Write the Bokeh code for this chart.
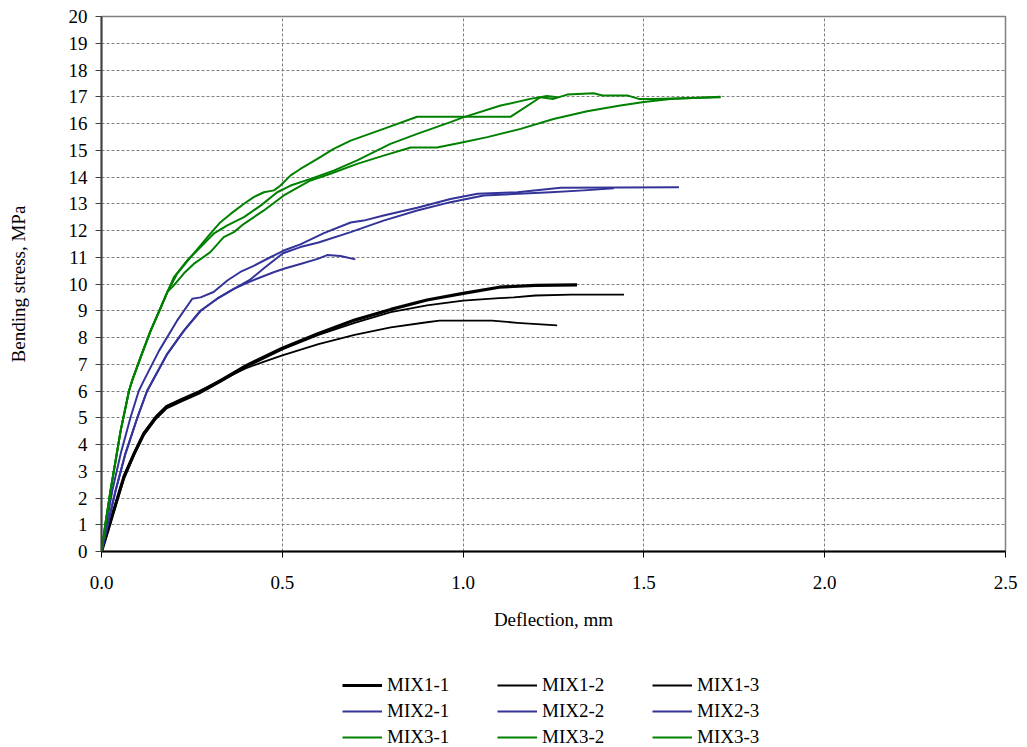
from bokeh.plotting import figure
from bokeh.models import Range1d, FixedTicker, PrintfTickFormatter, Legend, LegendItem
from bokeh.layouts import column
from bokeh.embed import file_html
from bokeh.resources import INLINE

# ---- data (deflection in mm, bending stress in MPa) ----
mix1_1_x = [0, 0.02, 0.04, 0.062, 0.09, 0.117, 0.15, 0.18, 0.22, 0.27, 0.33, 0.40, 0.50, 0.60, 0.70, 0.80, 0.90, 1.00, 1.10, 1.20, 1.315]
mix1_1_y = [0, 0.9, 1.8, 2.8, 3.65, 4.4, 5.0, 5.4, 5.65, 5.95, 6.4, 6.95, 7.6, 8.15, 8.65, 9.05, 9.4, 9.65, 9.88, 9.95, 9.97]
mix1_2_x = [0, 0.02, 0.04, 0.062, 0.09, 0.117, 0.15, 0.18, 0.22, 0.27, 0.33, 0.40, 0.50, 0.60, 0.70, 0.80, 0.90, 1.00, 1.10, 1.14, 1.20, 1.30, 1.445]
mix1_2_y = [0, 0.85, 1.75, 2.7, 3.6, 4.35, 4.95, 5.35, 5.6, 5.9, 6.35, 6.9, 7.55, 8.1, 8.55, 8.95, 9.2, 9.38, 9.47, 9.5, 9.57, 9.6, 9.6]
mix1_3_x = [0, 0.02, 0.04, 0.062, 0.09, 0.117, 0.15, 0.18, 0.22, 0.27, 0.33, 0.40, 0.45, 0.50, 0.60, 0.70, 0.80, 0.90, 0.935, 1.00, 1.08, 1.15, 1.26]
mix1_3_y = [0, 0.95, 1.85, 2.8, 3.7, 4.45, 5.05, 5.45, 5.7, 6.0, 6.4, 6.85, 7.1, 7.33, 7.75, 8.1, 8.38, 8.57, 8.63, 8.63, 8.63, 8.55, 8.45]

mix2_1_x = [0, 0.03, 0.053, 0.08, 0.103, 0.117, 0.159, 0.209, 0.251, 0.274, 0.31, 0.348, 0.384, 0.421, 0.467, 0.504, 0.55, 0.615, 0.689, 0.725, 0.78, 0.873, 0.965, 1.04, 1.15, 1.27, 1.597]
mix2_1_y = [0, 2.28, 3.65, 5.0, 6.0, 6.39, 7.5, 8.63, 9.45, 9.5, 9.7, 10.13, 10.45, 10.68, 11.0, 11.25, 11.48, 11.9, 12.3, 12.37, 12.56, 12.85, 13.18, 13.37, 13.43, 13.6, 13.62]
mix2_2_x = [0, 0.039, 0.066, 0.099, 0.126, 0.182, 0.228, 0.274, 0.32, 0.366, 0.41, 0.45, 0.502, 0.55, 0.60, 0.689, 0.78, 0.873, 0.965, 1.057, 1.242, 1.334, 1.417]
mix2_2_y = [0, 2.28, 3.65, 5.0, 6.0, 7.39, 8.26, 9.0, 9.45, 9.82, 10.15, 10.6, 11.15, 11.38, 11.55, 11.94, 12.37, 12.75, 13.06, 13.31, 13.43, 13.5, 13.58]
mix2_3_x = [0, 0.039, 0.066, 0.099, 0.126, 0.182, 0.228, 0.274, 0.32, 0.366, 0.412, 0.476, 0.504, 0.55, 0.60, 0.624, 0.661, 0.702]
mix2_3_y = [0, 2.28, 3.65, 5.0, 6.0, 7.39, 8.26, 9.0, 9.45, 9.82, 10.1, 10.44, 10.57, 10.75, 10.95, 11.08, 11.05, 10.92]

mix3_1_x = [0, 0.011, 0.025, 0.053, 0.076, 0.085, 0.108, 0.136, 0.16, 0.182, 0.2, 0.209, 0.246, 0.274, 0.301, 0.329, 0.357, 0.394, 0.421, 0.449, 0.477, 0.495, 0.523, 0.55, 0.597, 0.642, 0.689, 0.78, 0.873, 1.131, 1.214, 1.25, 1.288, 1.361, 1.385, 1.454, 1.486, 1.527, 1.712]
mix3_1_y = [0, 1.05, 2.28, 4.52, 6.0, 6.4, 7.26, 8.26, 9.0, 9.7, 10.15, 10.38, 11.0, 11.44, 11.88, 12.31, 12.62, 13.0, 13.25, 13.43, 13.5, 13.68, 14.06, 14.3, 14.68, 15.05, 15.36, 15.8, 16.25, 16.25, 16.98, 16.92, 17.08, 17.13, 17.05, 17.05, 16.92, 16.92, 16.98]
mix3_2_x = [0, 0.011, 0.025, 0.053, 0.076, 0.085, 0.108, 0.136, 0.16, 0.182, 0.2, 0.237, 0.274, 0.31, 0.348, 0.394, 0.44, 0.486, 0.523, 0.578, 0.642, 0.707, 0.799, 0.873, 0.965, 1.0, 1.104, 1.186, 1.232, 1.26]
mix3_2_y = [0, 1.05, 2.28, 4.52, 6.0, 6.4, 7.26, 8.26, 9.0, 9.7, 10.25, 10.88, 11.38, 11.88, 12.19, 12.5, 12.93, 13.43, 13.68, 13.93, 14.24, 14.62, 15.24, 15.61, 16.05, 16.23, 16.67, 16.92, 17.03, 16.98]
mix3_3_x = [0, 0.011, 0.025, 0.053, 0.076, 0.085, 0.108, 0.136, 0.16, 0.182, 0.2, 0.228, 0.255, 0.301, 0.338, 0.366, 0.394, 0.449, 0.504, 0.578, 0.633, 0.707, 0.78, 0.855, 0.928, 1.0, 1.067, 1.159, 1.25, 1.343, 1.435, 1.5, 1.573, 1.712]
mix3_3_y = [0, 1.05, 2.28, 4.52, 6.0, 6.4, 7.26, 8.26, 9.0, 9.7, 9.95, 10.4, 10.75, 11.19, 11.75, 11.94, 12.25, 12.75, 13.31, 13.87, 14.12, 14.49, 14.8, 15.1, 15.1, 15.3, 15.49, 15.8, 16.17, 16.46, 16.67, 16.8, 16.92, 17.0]

series_names = ["MIX1-1", "MIX1-2", "MIX1-3", "MIX2-1", "MIX2-2", "MIX2-3", "MIX3-1", "MIX3-2", "MIX3-3"]
series_x = [mix1_1_x, mix1_2_x, mix1_3_x, mix2_1_x, mix2_2_x, mix2_3_x, mix3_1_x, mix3_2_x, mix3_3_x]
series_y = [mix1_1_y, mix1_2_y, mix1_3_y, mix2_1_y, mix2_2_y, mix2_3_y, mix3_1_y, mix3_2_y, mix3_3_y]

x_ticks = [0.0, 0.5, 1.0, 1.5, 2.0, 2.5]
y_ticks = list(range(0, 21))

# ---- styles ----
BLACK = "#000000"
BLUE = "#333399"
GREEN = "#008000"
colors = [BLACK, BLACK, BLACK, BLUE, BLUE, BLUE, GREEN, GREEN, GREEN]
widths = [3.2, 1.8, 1.8, 2, 2, 2, 2, 2, 2]
FONT = "Liberation Serif"

# ---- main chart ----
p = figure(width=1020, height=650, output_backend="svg", toolbar_location=None,
           x_range=Range1d(0, 2.5), y_range=Range1d(0, 20),
           min_border_left=101, min_border_right=15, min_border_top=16, min_border_bottom=99)
p.outline_line_color = "#808080"
p.outline_line_width = 1.5

for xs, ys, c, w in zip(series_x, series_y, colors, widths):
    p.line(xs, ys, line_color=c, line_width=w, line_join="round")

p.xaxis.ticker = FixedTicker(ticks=x_ticks)
p.xaxis.formatter = PrintfTickFormatter(format="%.1f")
p.yaxis.ticker = FixedTicker(ticks=y_ticks)
for ax in (p.xaxis[0], p.yaxis[0]):
    ax.minor_tick_line_color = None
    ax.major_tick_in = 0
    ax.major_tick_out = 6
    ax.major_label_text_font = FONT
    ax.major_label_text_font_size = "19px"
    ax.major_label_text_color = "#000000"
    ax.axis_label_text_font = FONT
    ax.axis_label_text_font_size = "19px"
    ax.axis_label_text_font_style = "normal"
    ax.axis_label_text_color = "#000000"
p.xaxis.axis_label = "Deflection, mm"
p.yaxis.axis_label = "Bending stress, MPa"
p.xaxis.axis_line_color = "#000000"
p.xaxis.axis_line_width = 2
p.xaxis.major_tick_line_color = "#000000"
p.yaxis.axis_line_color = "#404040"
p.yaxis.axis_line_width = 2
p.yaxis.major_tick_line_color = "#404040"
p.xaxis.major_label_standoff = 18
p.xaxis.axis_label_standoff = 17
p.yaxis.major_label_standoff = 8
p.yaxis.axis_label_standoff = 37

p.xgrid.ticker = FixedTicker(ticks=x_ticks)
p.ygrid.ticker = FixedTicker(ticks=y_ticks)
for g in (p.xgrid[0], p.ygrid[0]):
    g.grid_line_color = "#808080"
    g.grid_line_dash = "3 2"
    g.grid_line_width = 1

# ---- legend strip (same series, ranges chosen so only the legend shows) ----
lg = figure(width=1020, height=96, output_backend="svg", toolbar_location=None,
            x_range=Range1d(100, 101), y_range=Range1d(100, 101),
            x_axis_type=None, y_axis_type=None,
            min_border_left=0, min_border_right=0, min_border_top=0, min_border_bottom=0)
lg.outline_line_color = None
lg.xgrid.visible = False
lg.ygrid.visible = False
leg_renderers = []
for xs, ys, c, w in zip(series_x, series_y, colors, widths):
    leg_renderers.append(lg.line(xs, ys, line_color=c, line_width=w))

items = [LegendItem(label=n, renderers=[r]) for n, r in zip(series_names, leg_renderers)]
legend = Legend(items=items, orientation="horizontal", ncols=3,
                location=(241, -2), margin=0, padding=0,
                glyph_width=40, glyph_height=22, label_height=22, label_standoff=5,
                label_width=106, spacing=4,
                label_text_font=FONT, label_text_font_size="19px",
                label_text_color="#000000",
                border_line_alpha=0, background_fill_alpha=0)
lg.add_layout(legend, "center")

layout = column(p, lg, spacing=0)
open("out.html", "w").write(file_html(layout, INLINE))
